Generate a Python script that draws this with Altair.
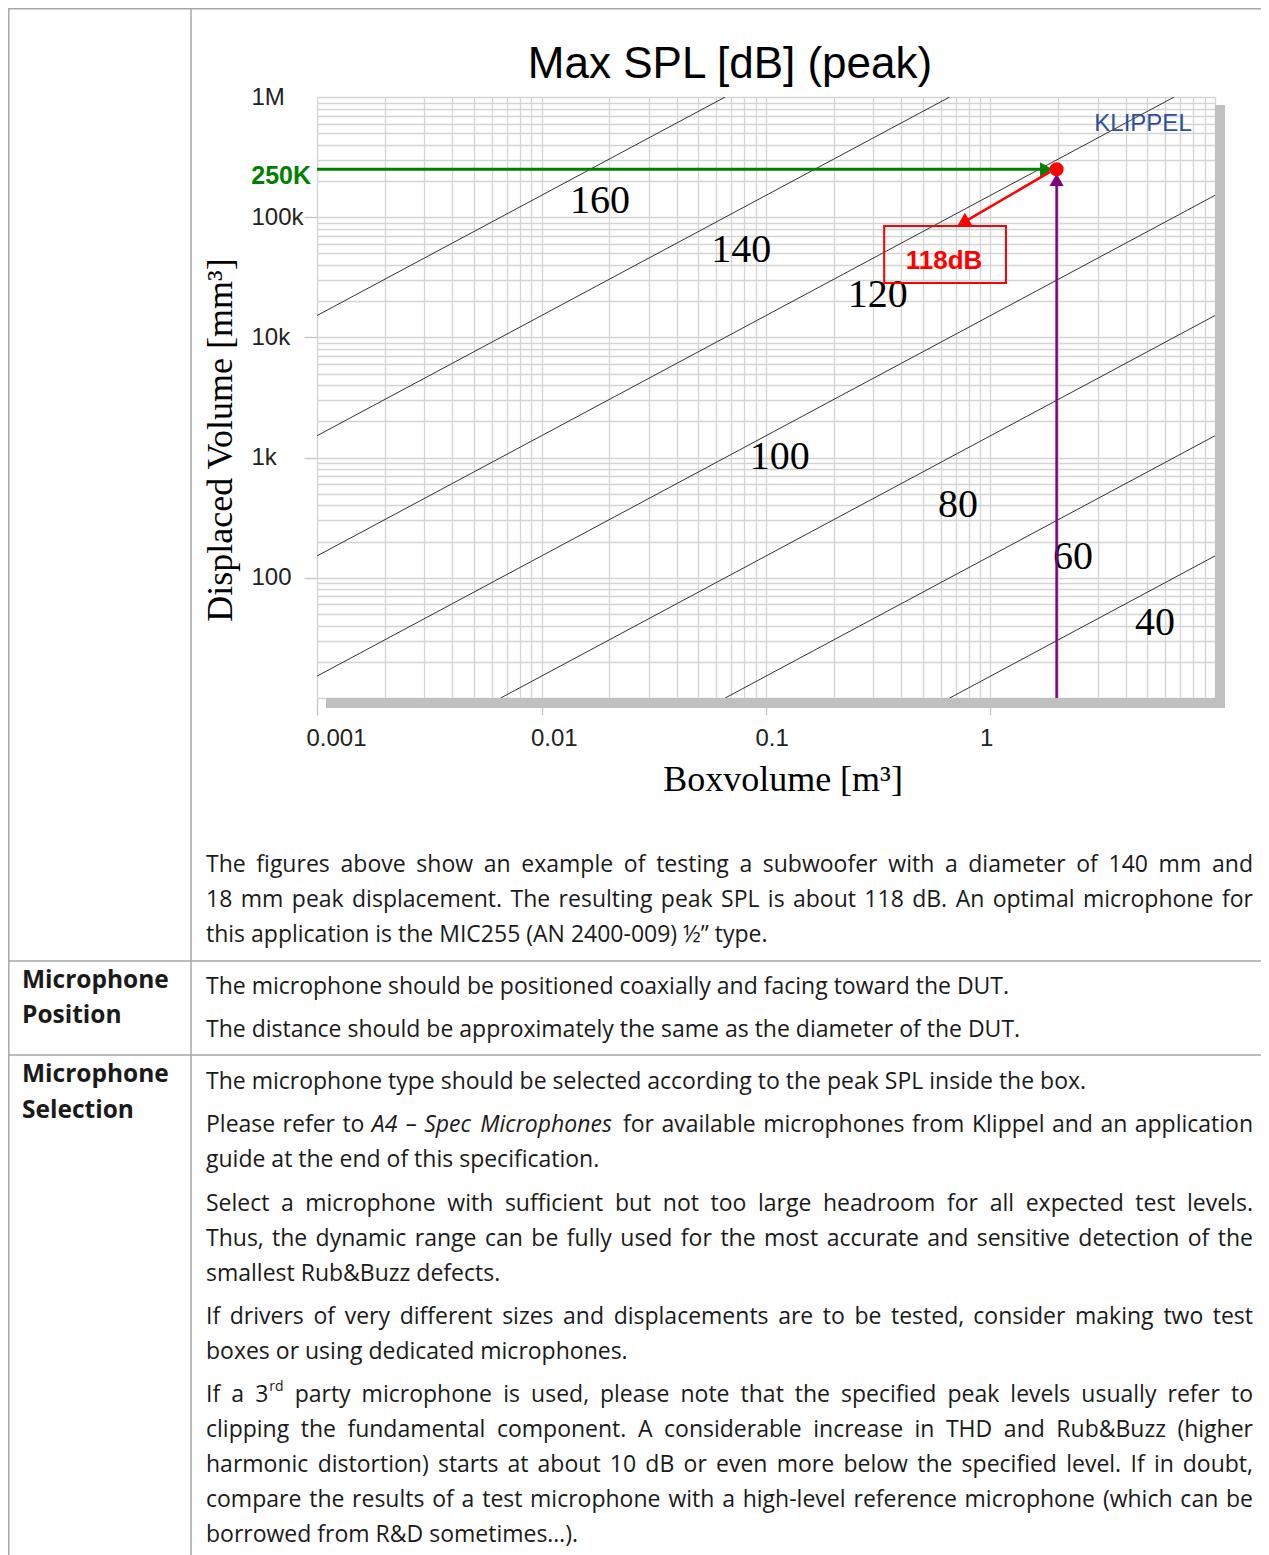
import altair as alt
import pandas as pd

# ------------------------------------------------------------------ data
spl_levels = [40, 60, 80, 100, 120, 140, 160]
line_x_start = [0.658, 0.0658, 0.00658, 0.001, 0.001, 0.001, 0.001]
line_y_start = [10, 10, 10, 15.2, 152, 1520, 15200]
line_x_end = [10, 10, 10, 10, 6.58, 0.658, 0.0658]
line_y_end = [152, 1520, 15200, 152000, 1000000, 1000000, 1000000]

label_x = [5.41, 2.33, 0.716, 0.115, 0.315, 0.0775, 0.0182]
label_y = [42.3, 150, 405, 1010, 22500, 53400, 136500]

x_tick_values = [0.001, 0.01, 0.1, 1]
x_tick_labels = ["0.001", "0.01", "0.1", "1"]
y_tick_values = [100, 1000, 10000, 100000, 1000000]
y_tick_labels = ["100", "1k", "10k", "100k", "1M"]
y_tick_marks = [100, 1000, 10000, 100000]
x_decades = [0.001, 0.01, 0.1, 1]
y_decades = [10, 100, 1000, 10000, 100000]
minor_steps = [1, 2, 3, 4, 5, 6, 7, 8, 9]

# operating point (Boxvolume m^3, displaced volume mm^3)
op_box = 1.97
op_disp = 250000
op_label = "250K"
spl_note = "118dB"
green_end = 1.70
green_head = 1.77
purple_end = 195000
purple_head = 204000
red_from = [1.84, 238000]
red_to = [0.778, 93100]
red_head = [0.769, 96700]
box_x = [0.336, 1.172]
box_y = [28400, 84600]
note_xy = [0.621, 43300]
brand_xy = [4.78, 596500]

# body text ( _word_ = italic, a^b = superscript b )
body_text = [
    "The figures above show an example of testing a subwoofer with a diameter of 140 mm and",
    "18 mm peak displacement. The resulting peak SPL is about 118 dB. An optimal microphone for",
    "this application is the MIC255 (AN 2400-009) ½” type.",
    "The microphone should be positioned coaxially and facing toward the DUT.",
    "The distance should be approximately the same as the diameter of the DUT.",
    "The microphone type should be selected according to the peak SPL inside the box.",
    "Please refer to _A4_ _–_ _Spec_ _Microphones_ for available microphones from Klippel and an application",
    "guide at the end of this specification.",
    "Select a microphone with sufficient but not too large headroom for all expected test levels.",
    "Thus, the dynamic range can be fully used for the most accurate and sensitive detection of the",
    "smallest Rub&Buzz defects.",
    "If drivers of very different sizes and displacements are to be tested, consider making two test",
    "boxes or using dedicated microphones.",
    "If a 3^rd party microphone is used, please note that the specified peak levels usually refer to",
    "clipping the fundamental component. A considerable increase in THD and Rub&Buzz (higher",
    "harmonic distortion) starts at about 10 dB or even more below the specified level. If in doubt,",
    "compare the results of a test microphone with a high-level reference microphone (which can be",
    "borrowed from R&D sometimes…).",
]
body_y = [865, 900, 935, 987, 1030, 1082, 1125, 1160, 1204, 1239, 1274, 1317, 1352, 1395, 1430, 1465,
          1500, 1535]
body_justified = [True, True, False, False, False, False, True, False, True, True, False, True, False,
                  True, True, True, True, False]
row_heads = ["Microphone", "Position", "Microphone", "Selection"]
row_heads_y = [981, 1016, 1075, 1111]

# ------------------------------------------------------------------ layout
W, H = 898, 601
OX, OY = 317, 97          # page position of plot origin
TEXT_L, TEXT_R = 206, 1253
BODY_SIZE, SUP_SIZE = 23, 14


def px(v):
    return v - OX


def py(v):
    return v - OY


xs = alt.Scale(type="log", domain=[0.001, 10], nice=False)
ys = alt.Scale(type="log", domain=[10, 1000000], nice=False)

x_grid = [round(m * d, 6) for d in x_decades for m in minor_steps] + [10]
y_grid = [round(m * d, 6) for d in y_decades for m in minor_steps] + [1000000]


def label_expr(values, labels):
    e = "''"
    for v, l in reversed(list(zip(values, labels))):
        e = f"datum.value == {v} ? '{l}' : ({e})"
    return e


x_axis = alt.Axis(
    values=x_grid, grid=True, gridColor="#d4d4d4", gridWidth=1.3, domain=False,
    ticks=True, tickSize=17, tickColor="#c4c4c4", tickWidth=1.3,
    tickOpacity={"condition": {"test": f"indexof({x_tick_values}, datum.value) >= 0", "value": 1}, "value": 0},
    labelExpr=label_expr(x_tick_values, x_tick_labels),
    labelFont="Liberation Sans", labelFontSize=24, labelColor="#222222",
    labelAlign="left", labelOffset=-11, labelPadding=11, labelFlush=False,
    labelOverlap=False, title=None,
)
y_axis = alt.Axis(
    values=y_grid, grid=True, gridColor="#d4d4d4", gridWidth=1.3, domain=False,
    ticks=True, tickSize=13, tickColor="#c4c4c4", tickWidth=1.3,
    tickOpacity={"condition": {"test": f"indexof({y_tick_marks}, datum.value) >= 0", "value": 1}, "value": 0},
    labelExpr=label_expr(y_tick_values, y_tick_labels),
    labelFont="Liberation Sans", labelFontSize=24, labelColor="#222222",
    labelAlign="left", labelBaseline="middle", labelPadding=53, labelFlush=False,
    labelOverlap=False, title=None,
)


def X(f):
    return alt.X(f, scale=xs, axis=x_axis)


def Y(f):
    return alt.Y(f, scale=ys, axis=y_axis)


rows = []
for lev, x1, y1, x2, y2 in zip(spl_levels, line_x_start, line_y_start, line_x_end, line_y_end):
    rows.append({"spl": lev, "x": x1, "y": y1})
    rows.append({"spl": lev, "x": x2, "y": y2})
lines_df = pd.DataFrame(rows)
labels_df = pd.DataFrame({"spl": [str(s) for s in spl_levels], "x": label_x, "y": label_y})
one = pd.DataFrame({"a": [0]})

layers = []

# shadow frame (right + bottom)
layers.append(alt.Chart(one).mark_rect(color="#c0c0c0").encode(
    x=alt.value(W), x2=alt.value(W + 10), y=alt.value(8), y2=alt.value(H + 10)))
layers.append(alt.Chart(one).mark_rect(color="#c0c0c0").encode(
    x=alt.value(9), x2=alt.value(W + 10), y=alt.value(H), y2=alt.value(H + 10)))

# SPL iso-lines (carry the axes / grid)
layers.append(alt.Chart(lines_df).mark_line(color="#333333", strokeWidth=1, clip=True).encode(
    x=X("x:Q"), y=Y("y:Q"), detail="spl:N"))

# SPL labels
layers.append(alt.Chart(labels_df).mark_text(
    font="Liberation Serif", fontSize=40, color="#000000", baseline="middle").encode(
    x=X("x:Q"), y=Y("y:Q"), text="spl:N"))

# green horizontal arrow
g = pd.DataFrame({"x": [0.001], "x2": [green_end], "y": [op_disp]})
layers.append(alt.Chart(g).mark_rule(color="#008000", strokeWidth=3).encode(
    x=X("x:Q"), x2="x2:Q", y=Y("y:Q")))
layers.append(alt.Chart(pd.DataFrame({"x": [green_head], "y": [op_disp]})).mark_point(
    shape="triangle-right", filled=True, color="#008000", size=200, opacity=1).encode(
    x=X("x:Q"), y=Y("y:Q")))

# purple vertical arrow
p = pd.DataFrame({"x": [op_box], "y": [10], "y2": [purple_end]})
layers.append(alt.Chart(p).mark_rule(color="#800080", strokeWidth=2.5).encode(
    x=X("x:Q"), y=Y("y:Q"), y2="y2:Q"))
layers.append(alt.Chart(pd.DataFrame({"x": [op_box], "y": [purple_head]})).mark_point(
    shape="triangle-up", filled=True, color="#800080", size=200, opacity=1).encode(
    x=X("x:Q"), y=Y("y:Q")))

# red arrow to the note box
r = pd.DataFrame({"x": [red_from[0]], "y": [red_from[1]], "x2": [red_to[0]], "y2": [red_to[1]]})
layers.append(alt.Chart(r).mark_rule(color="#ff0000", strokeWidth=2.5).encode(
    x=X("x:Q"), y=Y("y:Q"), x2="x2:Q", y2="y2:Q"))
layers.append(alt.Chart(pd.DataFrame({"x": [red_head[0]], "y": [red_head[1]]})).mark_point(
    shape="triangle-up", filled=True, color="#ff0000", size=200, opacity=1).encode(
    x=X("x:Q"), y=Y("y:Q")))

# operating point
layers.append(alt.Chart(pd.DataFrame({"x": [op_box], "y": [op_disp]})).mark_circle(
    color="#ff0000", size=200, opacity=1).encode(x=X("x:Q"), y=Y("y:Q")))

# note box + text
b = pd.DataFrame({"x": [box_x[0]], "x2": [box_x[1]], "y": [box_y[0]], "y2": [box_y[1]]})
layers.append(alt.Chart(b).mark_rect(fillOpacity=0, stroke="#ff0000", strokeWidth=2).encode(
    x=X("x:Q"), x2="x2:Q", y=Y("y:Q"), y2="y2:Q"))
layers.append(alt.Chart(pd.DataFrame({"x": [note_xy[0]], "y": [note_xy[1]], "t": [spl_note]})).mark_text(
    font="Liberation Sans", fontSize=26, fontWeight="bold", color="#ff0000", baseline="middle").encode(
    x=X("x:Q"), y=Y("y:Q"), text="t:N"))

# brand
layers.append(alt.Chart(pd.DataFrame({"x": [brand_xy[0]], "y": [brand_xy[1]], "t": ["KLIPPEL"]})).mark_text(
    font="Liberation Sans", fontSize=24, color="#2E4F9E", baseline="middle").encode(
    x=X("x:Q"), y=Y("y:Q"), text="t:N"))

# 250K label left of the plot
layers.append(alt.Chart(pd.DataFrame({"y": [op_disp], "t": [op_label]})).mark_text(
    font="Liberation Sans", fontSize=25, fontWeight="bold", color="#008000",
    align="right", baseline="middle", dy=7).encode(
    x=alt.value(px(311)), y=Y("y:Q"), text="t:N"))


def txt(s, x, y, **kw):
    return alt.Chart(one).mark_text(text=s, **kw).encode(x=alt.value(px(x)), y=alt.value(py(y)))


# titles
layers.append(txt("Max SPL [dB] (peak)", 730, 78, font="Liberation Sans", fontSize=44,
                  color="#000000", align="center", baseline="alphabetic"))
layers.append(txt("Boxvolume [m³]", 783, 791, font="Liberation Serif", fontSize=36,
                  color="#000000", align="center", baseline="alphabetic"))
layers.append(txt("Displaced Volume [mm³]", 232, 440, font="Liberation Serif", fontSize=36,
                  color="#000000", align="center", baseline="alphabetic", angle=270))

# table borders
bc = "#a6a6a6"
layers.append(alt.Chart(one).mark_rule(color=bc, strokeWidth=1.5).encode(
    x=alt.value(px(8.8)), y=alt.value(py(8)), y2=alt.value(py(1555))))
layers.append(alt.Chart(one).mark_rule(color=bc, strokeWidth=1.5).encode(
    x=alt.value(px(191)), y=alt.value(py(8)), y2=alt.value(py(1555))))
for hy in [8.8, 961, 1055]:
    layers.append(alt.Chart(one).mark_rule(color=bc, strokeWidth=1.5).encode(
        x=alt.value(px(8)), x2=alt.value(px(1269)), y=alt.value(py(hy))))

# ---- body text with justification (Open Sans advance widths, 1/1000 em)
OS_W = {" ": 260, "a": 556, "b": 613, "c": 476, "d": 613, "e": 561, "f": 339, "g": 548, "h": 614,
        "i": 253, "j": 253, "k": 525, "l": 253, "m": 930, "n": 614, "o": 604, "p": 613, "q": 613,
        "r": 408, "s": 477, "t": 353, "u": 614, "v": 501, "w": 778, "x": 524, "y": 501, "z": 463,
        "A": 633, "B": 648, "C": 631, "D": 729, "E": 556, "F": 516, "G": 728, "H": 738, "I": 279,
        "J": 267, "K": 613, "L": 519, "M": 907, "N": 764, "O": 779, "P": 602, "Q": 779, "R": 618,
        "S": 549, "T": 553, "U": 728, "V": 581, "W": 898, "X": 577, "Y": 560, "Z": 571,
        ".": 266, ",": 245, "(": 296, ")": 296, "-": 322, "–": 500, "&": 725, "’": 164, "”": 350}
for dgt in "0123456789":
    OS_W[dgt] = 572


def tw(s, size, factor=1.0):
    return sum(OS_W.get(c, 560) for c in s) / 1000.0 * size * factor


body_style = dict(font="Open Sans", fontSize=BODY_SIZE, color="#1a1a1a", align="left", baseline="middle")
ital_style = dict(body_style, fontStyle="italic")
sup_style = dict(font="Open Sans", fontSize=SUP_SIZE, color="#1a1a1a", align="left", baseline="middle")


def word_parts(w):
    if w.startswith("_") and w.endswith("_") and len(w) > 2:
        t = w[1:-1]
        return [(t, "i", tw(t, BODY_SIZE, 0.96))]
    if "^" in w:
        base, sup = w.split("^")
        return [(base, "n", tw(base, BODY_SIZE)), (sup, "s", tw(sup, SUP_SIZE) + 1)]
    return [(w, "n", tw(w, BODY_SIZE))]


def draw_parts(parts, x, y, right=None):
    out = []
    if right is not None and len(parts) == 1:
        t, k, _ = parts[0]
        st = ital_style if k == "i" else body_style
        out.append(txt(t, right, y, **dict(st, align="right")))
        return out
    for t, k, wdt in parts:
        if k == "s":
            out.append(txt(t, x + 1, y - 8, **sup_style))
        else:
            out.append(txt(t, x, y, **(ital_style if k == "i" else body_style)))
        x += wdt
    return out


for s, y, just in zip(body_text, body_y, body_justified):
    words = s.split(" ")
    plain = all(("^" not in w) and not w.startswith("_") for w in words)
    if not just and plain:
        layers.append(txt(s, TEXT_L, y, **body_style))
        continue
    parts = [word_parts(w) for w in words]
    widths = [sum(p[2] for p in ps) for ps in parts]
    if just and len(words) > 1:
        gap = (TEXT_R - TEXT_L - sum(widths)) / (len(words) - 1)
    else:
        gap = tw(" ", BODY_SIZE)
    x = TEXT_L
    for i, ps in enumerate(parts):
        last = just and i == len(parts) - 1
        layers.extend(draw_parts(ps, x, y, right=TEXT_R if last else None))
        x += widths[i] + gap

for s, y in zip(row_heads, row_heads_y):
    layers.append(txt(s, 22, y, font="Open Sans", fontSize=24.5, fontWeight="bold", color="#1a1a1a",
                      align="left", baseline="middle"))

chart = alt.layer(*layers).properties(
    width=W, height=H,
    autosize=alt.AutoSizeParams(type="none"),
    padding={"left": OX - 8, "top": OY - 8, "right": 1253 - (OX - 8) - W, "bottom": 1547 - (OY - 8) - H},
    background="white",
).configure_view(stroke=None)

chart.save("out.html", embed_options={"renderer": "svg", "actions": False})
